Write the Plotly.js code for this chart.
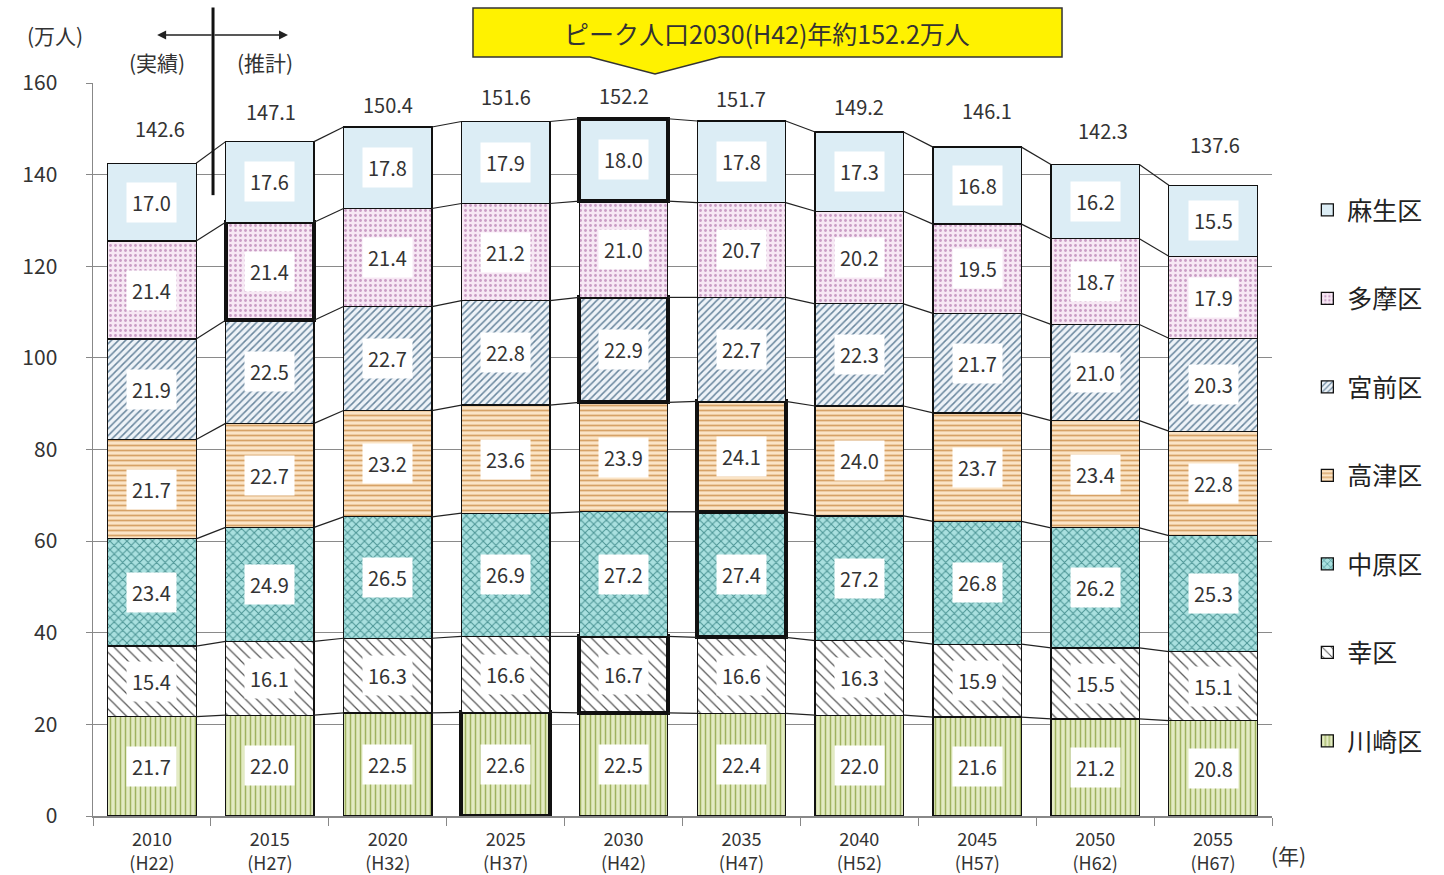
<!DOCTYPE html>
<html>
<head>
<meta charset="utf-8">
<script src="https://cdn.plot.ly/plotly-3.0.1.min.js"></script>
<style>html,body{margin:0;padding:0;background:#fff;}#chart{width:1444px;height:875px;}</style>
</head>
<body>
<div id="chart"></div>
<script>
// ---- data ----
var years = ["2010", "2015", "2020", "2025", "2030", "2035", "2040", "2045", "2050", "2055"];
var eras = ["H22", "H27", "H32", "H37", "H42", "H47", "H52", "H57", "H62", "H67"];
var wardNames = ["川崎区", "幸区", "中原区", "高津区", "宮前区", "多摩区", "麻生区"];
var kawasaki = [21.7, 22.0, 22.5, 22.6, 22.5, 22.4, 22.0, 21.6, 21.2, 20.8];
var saiwai   = [15.4, 16.1, 16.3, 16.6, 16.7, 16.6, 16.3, 15.9, 15.5, 15.1];
var nakahara = [23.4, 24.9, 26.5, 26.9, 27.2, 27.4, 27.2, 26.8, 26.2, 25.3];
var takatsu  = [21.7, 22.7, 23.2, 23.6, 23.9, 24.1, 24.0, 23.7, 23.4, 22.8];
var miyamae  = [21.9, 22.5, 22.7, 22.8, 22.9, 22.7, 22.3, 21.7, 21.0, 20.3];
var tama     = [21.4, 21.4, 21.4, 21.2, 21.0, 20.7, 20.2, 19.5, 18.7, 17.9];
var asao     = [17.0, 17.6, 17.8, 17.9, 18.0, 17.8, 17.3, 16.8, 16.2, 15.5];
var totals   = [142.6, 147.1, 150.4, 151.6, 152.2, 151.7, 149.2, 146.1, 142.3, 137.6];
// highlighted (thick-bordered) cells: index of year per ward
var highlight = [[3], [4], [5], [5], [4], [1], [4]];
var peakText = "ピーク人口2030(H42)年約152.2万人";

// ---- styles ----
var series = [kawasaki, saiwai, nakahara, takatsu, miyamae, tama, asao];
var styles = [
  {bg: "#e3ebc3", fg: "#9fb25f", shape: "|", size: 5, sol: 0.3},
  {bg: "#ffffff", fg: "#555555", shape: "\\", size: 8, sol: 0.15},
  {bg: "#a9e0df", fg: "#4b9494", shape: "x", size: 6, sol: 0.3},
  {bg: "#fbe4c6", fg: "#d7a266", shape: "-", size: 5, sol: 0.35},
  {bg: "#eef3f8", fg: "#6a879e", shape: "/", size: 5, sol: 0.3},
  {bg: "#f7e8f4", fg: "#c99cc4", shape: ".", size: 5, sol: 0.25},
  {bg: "#dcedf5", fg: "#dcedf5", shape: "", size: 6, sol: 0.3}
];
// label placement offsets (pixels) for the total labels
var totalShiftY = [30, 26, 18, 20, 19, 18, 21, 32, 29, 37];
var totalShiftX = [8, 1, 0, 0, 0, 0, 0, 10, 8, 2];
var barW = 0.75;
var xs = years.map(function (_, i) { return i; });
var traces = [];
var annotations = [];
var cum = years.map(function () { return 0; });
var cumLevels = [];
var numFont = {size: 20, color: "#333", family: "Noto Sans CJK JP"};

series.forEach(function (vals, k) {
  var st = styles[k];
  var lw = vals.map(function (_, i) { return highlight[k].indexOf(i) >= 0 ? 4 : 1.3; });
  traces.push({
    type: "bar", x: xs, y: vals, name: wardNames[k], width: barW,
    legendgroup: "g" + k, legendrank: series.length - k,
    marker: {
      color: st.bg,
      line: {color: "#111", width: lw},
      pattern: {shape: st.shape, fgcolor: st.fg, bgcolor: st.bg, size: st.size, solidity: st.sol}
    },
    hoverinfo: "skip"
  });
  vals.forEach(function (v, i) {
    annotations.push({
      x: i, y: cum[i] + v / 2, xref: "x", yref: "y", text: v.toFixed(1), showarrow: false,
      font: numFont, bgcolor: "#ffffff", borderpad: 5
    });
  });
  cum = cum.map(function (c, i) { return c + vals[i]; });
  cumLevels.push(cum.slice());
});

// series lines between bars
cumLevels.forEach(function (lev) {
  var lx = [], ly = [];
  for (var i = 0; i < lev.length - 1; i++) {
    lx.push(i + barW / 2, i + 1 - barW / 2, null);
    ly.push(lev[i], lev[i + 1], null);
  }
  traces.push({type: "scatter", mode: "lines", x: lx, y: ly, showlegend: false,
    line: {color: "#222", width: 1.2}, hoverinfo: "skip", cliponaxis: false});
});

// totals
totals.forEach(function (t, i) {
  annotations.push({x: i, y: t, xref: "x", yref: "y", text: t.toFixed(1), showarrow: false,
    yanchor: "bottom", yshift: totalShiftY[i] - 12, xshift: totalShiftX[i], font: numFont});
});

var txtFont = {size: 21, color: "#333", family: "Noto Sans CJK JP"};
function pa(x, y, text, font) {
  return {xref: "paper", yref: "paper", x: x, y: y, text: text, showarrow: false,
    xanchor: "center", yanchor: "middle", font: font};
}
annotations.push(
  pa(-0.032, 1.0655, "(万人)", txtFont),
  pa(0.0543, 1.0287, "(実績)", txtFont),
  pa(0.146, 1.0287, "(推計)", txtFont),
  pa(1.0136, -0.053, "(年)", txtFont),
  pa(0.572, 1.068, peakText, {size: 25, color: "#333", family: "Noto Sans CJK JP"}),
  {xref: "paper", yref: "paper", x: 0.0544, y: 1.0655, text: "", showarrow: true, ax: 56, ay: 0,
    arrowhead: 2, arrowsize: 1.2, arrowwidth: 1.5, arrowcolor: "#222"},
  {xref: "paper", yref: "paper", x: 0.1654, y: 1.0655, text: "", showarrow: true, ax: -75, ay: 0,
    arrowhead: 2, arrowsize: 1.2, arrowwidth: 1.5, arrowcolor: "#222"}
);

var layout = {
  width: 1444, height: 875,
  margin: {l: 93, r: 172, t: 83, b: 59},
  paper_bgcolor: "#ffffff", plot_bgcolor: "#ffffff",
  barmode: "stack",
  showlegend: true,
  font: {family: "Noto Sans CJK JP", color: "#333"},
  xaxis: {
    range: [-0.5, 9.5], tickmode: "array", tickvals: xs,
    ticktext: years.map(function (y, i) { return y + "<br>(" + eras[i] + ")"; }),
    tickfont: {size: 18, color: "#333"}, showgrid: false, zeroline: false,
    showline: true, linecolor: "#888", linewidth: 1.5, ticks: "", ticklabelstandoff: 7,
    minor: {tick0: 0.5, dtick: 1, ticks: "outside", ticklen: 8, tickcolor: "#888", showgrid: false}
  },
  yaxis: {
    range: [0, 160], dtick: 20, tickfont: {size: 21, color: "#333"},
    showgrid: true, gridcolor: "#8a8a8a", gridwidth: 1, zeroline: false,
    showline: true, linecolor: "#888", linewidth: 1.5, ticks: "outside", ticklen: 6, tickcolor: "#888",
    ticklabelstandoff: 24
  },
  legend: {
    x: 1.03, y: 0.858, xanchor: "left", yanchor: "top", traceorder: "grouped",
    tracegroupgap: 53, font: {size: 25, color: "#222", family: "Noto Sans CJK JP"},
    itemwidth: 30, bgcolor: "rgba(0,0,0,0)"
  },
  shapes: [
    {type: "line", xref: "paper", yref: "paper", x0: 0.1018, x1: 0.1018, y0: 0.847, y1: 1.103,
      line: {color: "#111", width: 3}},
    {type: "path", xref: "paper", yref: "paper",
      path: "M 0.3223 1.1023 L 0.8219 1.1023 L 0.8219 1.0355 L 0.5318 1.0355 L 0.4767 1.0123 L 0.4215 1.0355 L 0.3223 1.0355 Z",
      fillcolor: "#fff200", line: {color: "#333", width: 1.5}, layer: "below"}
  ],
  annotations: annotations
};

Plotly.newPlot("chart", traces, layout, {displayModeBar: false, staticPlot: true});
</script>
</body>
</html>
